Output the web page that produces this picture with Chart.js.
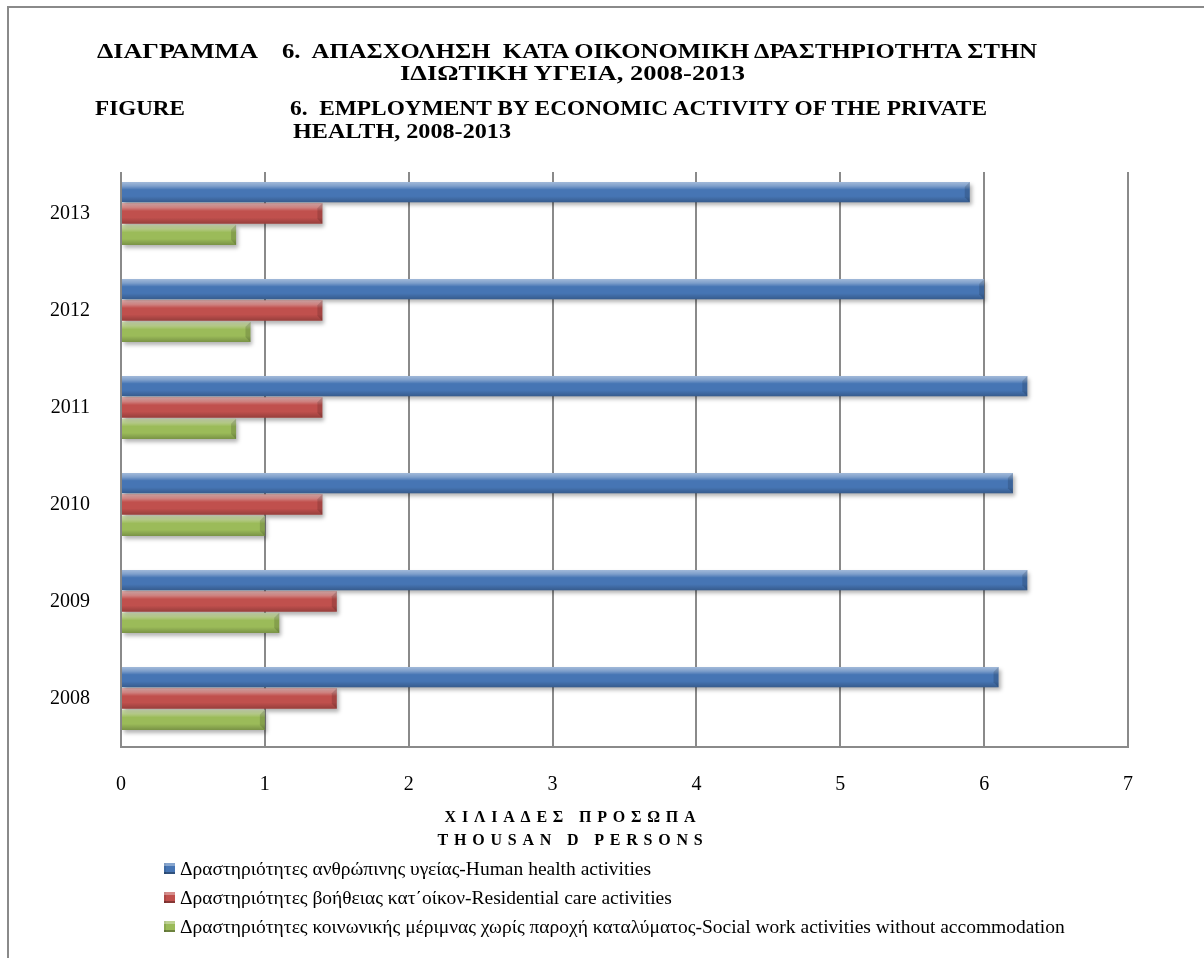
<!DOCTYPE html>
<html>
<head>
<meta charset="utf-8">
<script src="https://cdn.jsdelivr.net/npm/chart.js@4/dist/chart.umd.min.js"></script>
<style>
  body { margin: 0; background: #fff; font-family: "Liberation Serif", "Times New Roman", serif; color: #000; }
  #page { position: relative; width: 1204px; height: 958px; overflow: hidden; }
  #frame { position: absolute; left: 7px; top: 6px; width: 1300px; height: 1100px; border: 2px solid #8a8a8a; }
  canvas { position: absolute; left: 0; top: 0; }
  .t { position: absolute; font-weight: bold; font-size: 21px; white-space: pre; line-height: 24px; transform-origin: 0 0; }
  .axis-title { position: absolute; left: 373px; width: 400px; text-align: center; font-weight: bold; font-size: 16px; letter-spacing: 5.8px; white-space: pre; line-height: 20px; }
  #legend { position: absolute; left: 164px; top: 854px; font-size: 19.5px; }
  #legend div { height: 29px; display: flex; align-items: center; white-space: pre; }
  #legend span.box { display: inline-block; width: 11px; height: 11px; margin-right: 5px; }
</style>
</head>
<body>
<div id="page">
  <div id="frame"></div>
  <canvas id="chart" width="1204" height="958"></canvas>
  <div class="t" data-w="161" style="left:97px; top:39px;">ΔΙΑΓΡΑΜΜΑ</div>
  <div class="t" data-w="755" style="left:282px; top:39px;">6.  ΑΠΑΣΧΟΛΗΣΗ  ΚΑΤΑ ΟΙΚΟΝΟΜΙΚΗ ΔΡΑΣΤΗΡΙΟΤΗΤΑ ΣΤΗΝ</div>
  <div class="t" data-w="345" style="left:400px; top:61px;">ΙΔΙΩΤΙΚΗ ΥΓΕΙΑ, 2008-2013</div>
  <div class="t" data-w="90" style="left:95px; top:96px;">FIGURE</div>
  <div class="t" data-w="697" style="left:290px; top:96px;">6.  EMPLOYMENT BY ECONOMIC ACTIVITY OF THE PRIVATE</div>
  <div class="t" data-w="218" style="left:293px; top:119px;">HEALTH, 2008-2013</div>
  <div class="axis-title" style="top:807px;">ΧΙΛΙΑΔΕΣ ΠΡΟΣΩΠΑ</div>
  <div class="axis-title" style="top:830px;">THOUSAN D PERSONS</div>
  <div id="legend"></div>
</div>
<script>
// years top to bottom, as in the picture
const years = ['2013', '2012', '2011', '2010', '2009', '2008'];
const humanHealth = [5.9, 6.0, 6.3, 6.2, 6.3, 6.1];
const residentialCare = [1.4, 1.4, 1.4, 1.4, 1.5, 1.5];
const socialWork = [0.8, 0.9, 0.8, 1.0, 1.1, 1.0];
const seriesNames = [
  'Δραστηριότητες ανθρώπινης υγείας-Human health activities',
  'Δραστηριότητες βοήθειας κατ΄οίκον-Residential care activities',
  'Δραστηριότητες κοινωνικής μέριμνας χωρίς παροχή καταλύματος-Social work activities without accommodation'
];
const seriesColors = ['#4675b4', '#c0504d', '#9bbb59'];

const gray = '#8a8a8a';
const serif = "'Liberation Serif', 'Times New Roman', serif";

// stretch the title lines to the width they have in the original
document.querySelectorAll('.t').forEach(el => {
  const w = el.getBoundingClientRect().width;
  el.style.transform = 'scaleX(' + (el.dataset.w / w) + ')';
});

// glossy bevel look of the bars
const bevel = {
  id: 'bevel',
  beforeDatasetsDraw(chart) {
    const c = chart.ctx;
    const a = chart.chartArea;
    // grid lines start a little below the top of the plot in the original
    c.fillStyle = '#fff';
    c.fillRect(a.left - 2, a.top - 2, a.right - a.left + 4, 9);
    c.save();
    c.shadowColor = 'rgba(0,0,0,0.3)';
    c.shadowBlur = 4;
    c.shadowOffsetX = 2;
    c.shadowOffsetY = 3;
  },
  afterDatasetsDraw(chart) {
    const c = chart.ctx;
    c.restore();
    chart.data.datasets.forEach((ds, i) => {
      chart.getDatasetMeta(i).data.forEach(bar => {
        const top = bar.y - bar.height / 2;
        const h = bar.height;
        const left = bar.base;
        const w = bar.x - bar.base;
        const g = c.createLinearGradient(0, top, 0, top + h);
        g.addColorStop(0, 'rgba(255,255,255,0.5)');
        g.addColorStop(0.2, 'rgba(255,255,255,0.3)');
        g.addColorStop(0.38, 'rgba(255,255,255,0)');
        g.addColorStop(0.7, 'rgba(0,0,0,0)');
        g.addColorStop(1, 'rgba(0,0,0,0.22)');
        c.fillStyle = g;
        c.fillRect(left, top, w, h);
        // end cap
        c.fillStyle = 'rgba(0,0,0,0.14)';
        c.beginPath();
        c.moveTo(bar.x, top);
        c.lineTo(bar.x, top + h);
        c.lineTo(bar.x - 5, top + h - 5);
        c.lineTo(bar.x - 5, top + 5);
        c.closePath();
        c.fill();
      });
    });
  }
};

const chart = new Chart(document.getElementById('chart'), {
  type: 'bar',
  data: {
    labels: years,
    datasets: [
      { label: seriesNames[0], data: humanHealth, backgroundColor: seriesColors[0] },
      { label: seriesNames[1], data: residentialCare, backgroundColor: seriesColors[1] },
      { label: seriesNames[2], data: socialWork, backgroundColor: seriesColors[2] }
    ]
  },
  options: {
    indexAxis: 'y',
    responsive: false,
    animation: false,
    categoryPercentage: 0.66,
    barPercentage: 0.95,
    layout: { padding: { top: 165, right: 76, bottom: 151, left: 0 } },
    plugins: {
      legend: { display: false },
      tooltip: { enabled: false }
    },
    scales: {
      x: {
        min: 0,
        max: 7,
        ticks: { stepSize: 1, color: '#000', font: { family: serif, size: 20 }, padding: 26 },
        grid: { color: gray, lineWidth: 2, drawTicks: false },
        border: { color: gray, width: 2 },
        afterFit: s => { s.height = 60; }
      },
      y: {
        grid: { display: false },
        border: { color: gray, width: 2 },
        ticks: { color: '#000', font: { family: serif, size: 20 }, padding: 23 },
        afterFit: s => { s.width = 121; }
      }
    }
  },
  plugins: [bevel]
});

// legend under the axis title
const legend = document.getElementById('legend');
chart.data.datasets.forEach(ds => {
  const row = document.createElement('div');
  const box = document.createElement('span');
  box.className = 'box';
  box.style.background = ds.backgroundColor;
  box.style.boxShadow = 'inset 0 3px 0 rgba(255,255,255,0.35), inset 0 -2px 0 rgba(0,0,0,0.3), inset 2px 0 0 rgba(0,0,0,0.1)';
  row.appendChild(box);
  row.appendChild(document.createTextNode(ds.label));
  legend.appendChild(row);
});
</script>
</body>
</html>
